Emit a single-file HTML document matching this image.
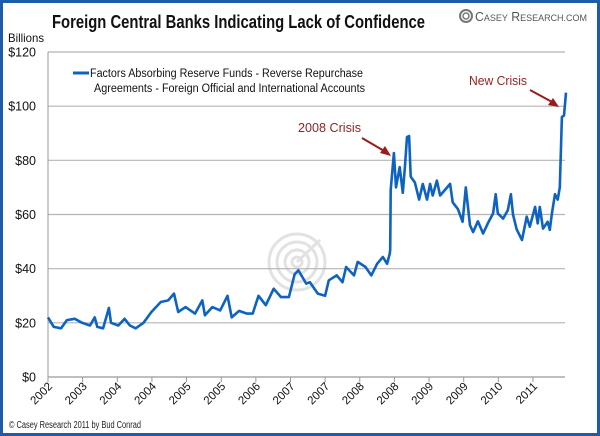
<!DOCTYPE html>
<html><head><meta charset="utf-8"><style>
html,body{margin:0;padding:0;background:#fff}
svg{display:block}
text{font-family:"Liberation Sans",sans-serif}
</style></head><body>
<svg width="600" height="436" viewBox="0 0 600 436" xmlns="http://www.w3.org/2000/svg">
<rect x="1.5" y="1.5" width="597" height="433" fill="#fff" stroke="#1c5ca8" stroke-width="3"/>
<text x="52" y="28" font-size="18" font-weight="bold" fill="#111" textLength="373" lengthAdjust="spacingAndGlyphs">Foreign Central Banks Indicating Lack of Confidence</text>
<g>
<circle cx="466" cy="16" r="6" fill="none" stroke="#777" stroke-width="2"/>
<circle cx="466" cy="16" r="3" fill="none" stroke="#777" stroke-width="1.5"/>
<text x="475" y="21" font-size="13" fill="#555" font-family="Liberation Serif,serif" textLength="112" lengthAdjust="spacingAndGlyphs">C<tspan font-size="9.5">ASEY</tspan> R<tspan font-size="9.5">ESEARCH.COM</tspan></text>
</g>
<g fill="none" stroke="#e2e2e2" stroke-width="3">
<circle cx="297" cy="262" r="28"/><circle cx="297" cy="262" r="20"/><circle cx="297" cy="262" r="12"/><circle cx="297" cy="262" r="5"/>
<line x1="297" y1="262" x2="320" y2="240"/>
</g>
<text x="8" y="42" font-size="12" fill="#111" textLength="36" lengthAdjust="spacingAndGlyphs">Billions</text>
<g id="grid"></g><g id="yt"></g><g id="xt"></g>
<g>
<line x1="73" y1="73" x2="89" y2="73" stroke="#0f63c0" stroke-width="3"/>
<text x="90" y="77" font-size="11.5" fill="#111" textLength="273" lengthAdjust="spacingAndGlyphs">Factors Absorbing Reserve Funds - Reverse Repurchase</text>
<text x="94" y="92" font-size="11.5" fill="#111" textLength="271" lengthAdjust="spacingAndGlyphs">Agreements - Foreign Official and International Accounts</text>
</g>
<path id="line" fill="none" stroke="#0f63c0" stroke-width="2.6" stroke-linejoin="round"/>
<g>
<text x="298" y="132" font-size="13" fill="#9b1c1c" textLength="63" lengthAdjust="spacingAndGlyphs">2008 Crisis</text>
<line x1="362" y1="138" x2="386" y2="152" stroke="#9b1c1c" stroke-width="2"/>
<polygon points="391,156 380,153 385,146" fill="#9b1c1c"/>
</g>
<g>
<text x="469" y="85" font-size="13" fill="#9b1c1c" textLength="58" lengthAdjust="spacingAndGlyphs">New Crisis</text>
<line x1="530" y1="90" x2="554" y2="103" stroke="#9b1c1c" stroke-width="2"/>
<polygon points="559,107 548,105 553,98" fill="#9b1c1c"/>
</g>
<text x="9" y="428" font-size="10" fill="#222" textLength="132" lengthAdjust="spacingAndGlyphs">© Casey Research 2011 by Bud Conrad</text>
</svg>
<script>
const dates=[2002.00,2002.11,2002.25,2002.36,2002.51,2002.65,2002.80,2002.89,2002.94,2003.05,2003.16,2003.20,2003.34,2003.46,2003.56,2003.67,2003.82,2003.97,2004.15,2004.29,2004.40,2004.48,2004.62,2004.80,2004.94,2004.99,2005.13,2005.28,2005.42,2005.50,2005.64,2005.79,2005.90,2006.01,2006.15,2006.30,2006.44,2006.59,2006.70,2006.77,2006.92,2006.99,2007.14,2007.28,2007.35,2007.50,2007.61,2007.68,2007.83,2007.90,2008.05,2008.16,2008.27,2008.38,2008.46,2008.51,2008.52,2008.53,2008.59,2008.63,2008.70,2008.76,2008.80,2008.84,2008.88,2008.91,2008.99,2009.07,2009.14,2009.22,2009.28,2009.33,2009.41,2009.47,2009.56,2009.66,2009.71,2009.81,2009.90,2009.96,2010.04,2010.10,2010.19,2010.29,2010.38,2010.48,2010.53,2010.57,2010.67,2010.76,2010.82,2010.86,2010.93,2011.03,2011.12,2011.18,2011.28,2011.33,2011.37,2011.43,2011.52,2011.56,2011.60,2011.66,2011.71,2011.75,2011.79,2011.83,2011.87];
const values=[22,18.5,18,21,21.5,20,19,22,18.5,18,25.5,20,19,21.5,19,18,20,24,27.7,28.3,30.8,24,25.8,23.4,28.3,22.8,25.8,24.6,30,22,24.4,23.4,23.4,30,26.5,32.6,29.5,29.5,38,39.4,34.5,35,30.8,30,35.7,37.5,35,40.6,37.5,42.5,40.6,37.5,41.8,44.3,41.8,45.5,46.9,69,82.7,70,77.5,68,77.5,88.6,89,74,71.8,65.5,71.3,65.5,71.3,67,72.5,67,69,71.3,64.5,62,57.3,70,56,53.5,57.5,53,56.7,60.4,67.5,60.4,58.5,61.6,67.5,60,54.5,50.6,59.2,55.5,62.8,56.7,62.8,54.8,57.3,54.3,60.4,67.5,65.5,70,96,96.5,105];
const yTicks=[0,20,40,60,80,100,120];
const yTickLabels=["$0","$20","$40","$60","$80","$100","$120"];
const xTickLabels=["2002","2003","2004","2004","2005","2005","2006","2007","2007","2008","2008","2009","2009","2010","2011"];
const xTickDates=[2002.00,2002.66,2003.32,2003.98,2004.64,2005.30,2005.96,2006.62,2007.28,2007.94,2008.60,2009.26,2009.92,2010.58,2011.24];
const NS="http://www.w3.org/2000/svg";
const X0=48,X1=565,Y0=377,Y1=52,D0=2002.0,D1=2011.85,V1=120;
const xs=d=>X0+(d-D0)/(D1-D0)*(X1-X0);
const ys=v=>Y0-v/V1*(Y0-Y1);
const grid=document.getElementById('grid'),yt=document.getElementById('yt'),xt=document.getElementById('xt');
yTicks.forEach((v,i)=>{
 const l=document.createElementNS(NS,'line');
 l.setAttribute('x1',X0);l.setAttribute('x2',X1);l.setAttribute('y1',ys(v));l.setAttribute('y2',ys(v));
 l.setAttribute('stroke',v===0?'#999':'#b4b4b4');l.setAttribute('stroke-width',1.2);
 
 
 grid.appendChild(l);
 const t=document.createElementNS(NS,'text');
 t.setAttribute('x',36);t.setAttribute('y',ys(v)+4.5);t.setAttribute('text-anchor','end');t.setAttribute('font-size','12.5');t.setAttribute('fill','#111');
 t.textContent=yTickLabels[i];
 
 
 yt.appendChild(t);
});
const ax=document.createElementNS(NS,'line');
ax.setAttribute('x1',X0);ax.setAttribute('x2',X0);ax.setAttribute('y1',Y1);ax.setAttribute('y2',Y0+5);ax.setAttribute('stroke','#999');


grid.appendChild(ax);
xTickDates.forEach((d,i)=>{
 const x=xs(d);
 const tk=document.createElementNS(NS,'line');
 tk.setAttribute('x1',x);tk.setAttribute('x2',x);tk.setAttribute('y1',Y0);tk.setAttribute('y2',Y0+5);tk.setAttribute('stroke','#999');
 
 
 xt.appendChild(tk);
 const t=document.createElementNS(NS,'text');
 t.setAttribute('x',x+5);t.setAttribute('y',Y0+10);t.setAttribute('text-anchor','end');t.setAttribute('font-size','11.5');t.setAttribute('fill','#111');
 t.setAttribute('transform','rotate(-45 '+(x+5)+' '+(Y0+10)+')');
 t.textContent=xTickLabels[i];
 
 
 xt.appendChild(t);
});
document.getElementById('line').setAttribute('d',dates.map((d,i)=>(i?'L':'M')+xs(d).toFixed(1)+','+ys(values[i]).toFixed(1)).join(''));
</script>
</body></html>
